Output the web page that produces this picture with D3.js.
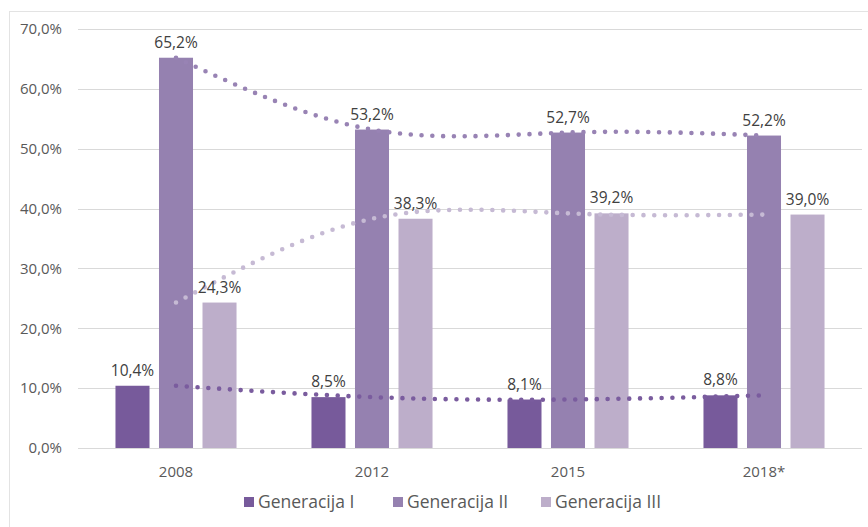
<!DOCTYPE html>
<html>
<head>
<meta charset="utf-8">
<script src="https://cdn.jsdelivr.net/npm/d3@7"></script>
<style>
  body { margin: 0; background: #fff; }
  text { font-family: "Open Sans", sans-serif; }
</style>
</head>
<body>
<div id="chart"></div>
<script>
// data
var years = ['2008', '2012', '2015', '2018*'];
var seriesNames = ['Generacija I', 'Generacija II', 'Generacija III'];
var genI = [10.4, 8.5, 8.1, 8.8];
var genII = [65.2, 53.2, 52.7, 52.2];
var genIII = [24.3, 38.3, 39.2, 39.0];
var yTicks = [0, 10, 20, 30, 40, 50, 60, 70];

var barColors = ['#775a9b', '#9581b0', '#bdaeca'];
var trendColors = ['#7a5c9e', '#9883b4', '#c6bad4'];

const width = 868;
const height = 527;
const plot = { left: 78, right: 862, top: 29, bottom: 448 };

var svg = d3.select('#chart').append('svg')
    .attr('width', width)
    .attr('height', height);

// outer chart border
svg.append('rect')
    .attr('x', 9.5).attr('y', 11.5)
    .attr('width', width).attr('height', height)
    .attr('fill', 'none')
    .attr('stroke', '#e3e3e3');

var x = d3.scaleBand()
    .domain(years)
    .range([plot.left, plot.right])
    .paddingInner(0.334)
    .paddingOuter(0.167);

var xSeries = d3.scaleBand()
    .domain(seriesNames)
    .range([0, x.bandwidth()])
    .paddingInner(0.218)
    .paddingOuter(0.109);

var y = d3.scaleLinear()
    .domain([0, 70])
    .range([plot.bottom, plot.top]);

var fmt = function (v) { return d3.format('.1f')(v).replace('.', ',') + '%'; };

// grid lines
svg.append('g').selectAll('line').data(yTicks).enter().append('line')
    .attr('x1', plot.left).attr('x2', plot.right)
    .attr('y1', function (d) { return Math.round(y(d)) + 0.5; })
    .attr('y2', function (d) { return Math.round(y(d)) + 0.5; })
    .attr('stroke', '#d9d9d9')
    .attr('stroke-width', 1);

// y axis labels
svg.append('g').selectAll('text').data(yTicks).enter().append('text')
    .attr('x', 62)
    .attr('y', function (d) { return y(d); })
    .attr('dy', '0.35em')
    .attr('text-anchor', 'end')
    .attr('font-size', 15)
    .attr('fill', '#595959')
    .text(function (d) { return fmt(d); });

// x axis labels
svg.append('g').selectAll('text').data(years).enter().append('text')
    .attr('x', function (d) { return x(d) + x.bandwidth() / 2; })
    .attr('y', 477)
    .attr('text-anchor', 'middle')
    .attr('font-size', 15)
    .attr('fill', '#595959')
    .text(function (d) { return d; });

// bars
var allSeries = [genI, genII, genIII];
var groups = svg.append('g').selectAll('g').data(allSeries).enter().append('g')
    .attr('fill', function (d, i) { return barColors[i]; });

groups.each(function (vals, si) {
    var g = d3.select(this);
    g.selectAll('rect').data(vals).enter().append('rect')
        .attr('x', function (d, i) { return x(years[i]) + xSeries(seriesNames[si]); })
        .attr('width', xSeries.bandwidth())
        .attr('y', function (d) { return y(d); })
        .attr('height', function (d) { return plot.bottom - y(d); });
});

// dotted trend lines
var trend = d3.line()
    .x(function (d, i) { return x(years[i]) + x.bandwidth() / 2; })
    .y(function (d) { return y(d); })
    .curve(d3.curveNatural);

svg.append('g').selectAll('path').data(allSeries).enter().append('path')
    .attr('d', function (d) { return trend(d); })
    .attr('fill', 'none')
    .attr('stroke', function (d, i) { return trendColors[i]; })
    .attr('stroke-width', 4.6)
    .attr('stroke-linecap', 'round')
    .attr('stroke-dasharray', '0 10.8');

// data labels
groups.each(function (vals, si) {
    svg.append('g').selectAll('text').data(vals).enter().append('text')
        .attr('x', function (d, i) { return x(years[i]) + xSeries(seriesNames[si]) + xSeries.bandwidth() / 2; })
        .attr('y', function (d) { return y(d) - 10; })
        .attr('text-anchor', 'middle')
        .attr('font-size', 15.5)
        .attr('fill', '#404040')
        .text(function (d) { return fmt(d); });
});

// legend
var legendX = [244, 393, 541];
var legend = svg.append('g').selectAll('g').data(seriesNames).enter().append('g')
    .attr('transform', function (d, i) { return 'translate(' + legendX[i] + ',497)'; });
legend.append('rect')
    .attr('width', 10).attr('height', 10)
    .attr('fill', function (d, i) { return barColors[i]; });
legend.append('text')
    .attr('x', 14).attr('y', 10.5)
    .attr('font-size', 17.5)
    .attr('fill', '#595959')
    .text(function (d) { return d; });
</script>
</body>
</html>
